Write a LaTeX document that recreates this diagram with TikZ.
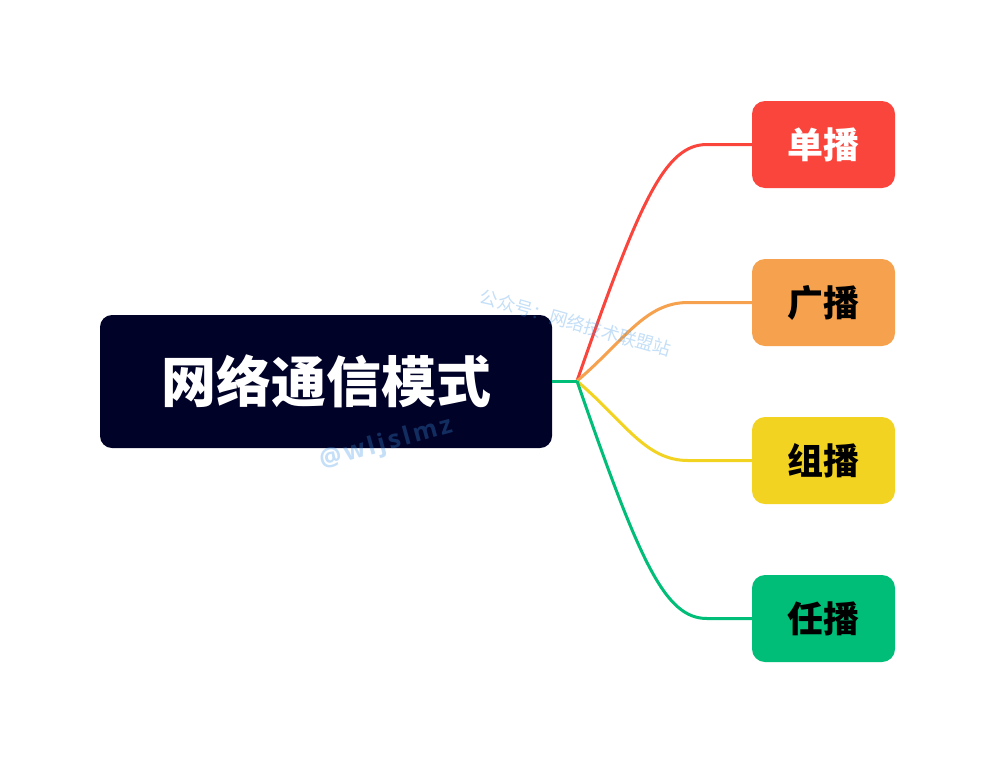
\documentclass[tikz,border=0pt]{standalone}
\usepackage{fontspec}
\newfontfamily\cjk{Noto Sans CJK SC}
\newfontfamily\wmfont[LetterSpace=12]{Open Sans}
\definecolor{rootfill}{HTML}{010228}
\definecolor{cred}{HTML}{FA453C}
\definecolor{corange}{HTML}{F5A14D}
\definecolor{cyellow}{HTML}{F2D321}
\definecolor{cgreen}{HTML}{00BD78}
\definecolor{wm}{HTML}{3C96E6}
\tikzset{
  rootbox/.style={fill=rootfill, rounded corners=12pt, minimum width=452pt, minimum height=133pt, inner sep=0pt, text=white, font=\cjk\bfseries\fontsize{55pt}{60pt}\selectfont},
  leafbox/.style={rounded corners=13pt, minimum width=143pt, minimum height=87pt, inner sep=0pt, font=\cjk\bfseries\fontsize{36pt}{40pt}\selectfont},
  link/.style={line width=3pt},
  wmark/.style={text=wm, opacity=0.3}
}
\begin{document}
\begin{tikzpicture}[x=1pt,y=-1pt]
\useasboundingbox[fill=white] (0,0) rectangle (996,764);
\coordinate (j) at (577,381);
\coordinate (e1) at (707,144.5);
\coordinate (e2) at (688,302.5);
\coordinate (e3) at (688,460.5);
\coordinate (e4) at (707,618.5);
\node[rootbox] (root) at (326,381.5) {网络通信模式};
\node[leafbox, fill=cred, text=white] (a) at (823.5,144.5) {单播};
\node[leafbox, fill=corange, text=black] (b) at (823.5,302.5) {广播};
\node[leafbox, fill=cyellow, text=black] (c) at (823.5,460.5) {组播};
\node[leafbox, fill=cgreen, text=black] (d) at (823.5,618.5) {任播};
\draw[link, cred] (j) .. controls (640,200) and (665,144.5) .. (e1) -- (a.west);
\draw[link, corange] (j) .. controls (625,340) and (645,302.5) .. (e2) -- (b.west);
\draw[link, cyellow] (j) .. controls (625,422) and (645,460.5) .. (e3) -- (c.west);
\draw[link, cgreen] (j) .. controls (640,563) and (665,618.5) .. (e4) -- (d.west);
\draw[link, cgreen] (root.east |- j) -- (j);
\node[wmark, rotate=-16, font=\cjk\fontsize{18pt}{20pt}\selectfont] (w1) at (576,323) {公众号：网络技术联盟站};
\node[wmark, rotate=15.5, font=\wmfont\bfseries\fontsize{25pt}{28pt}\selectfont] (w2) at (386,444) {@wljslmz};
\end{tikzpicture}
\end{document}
